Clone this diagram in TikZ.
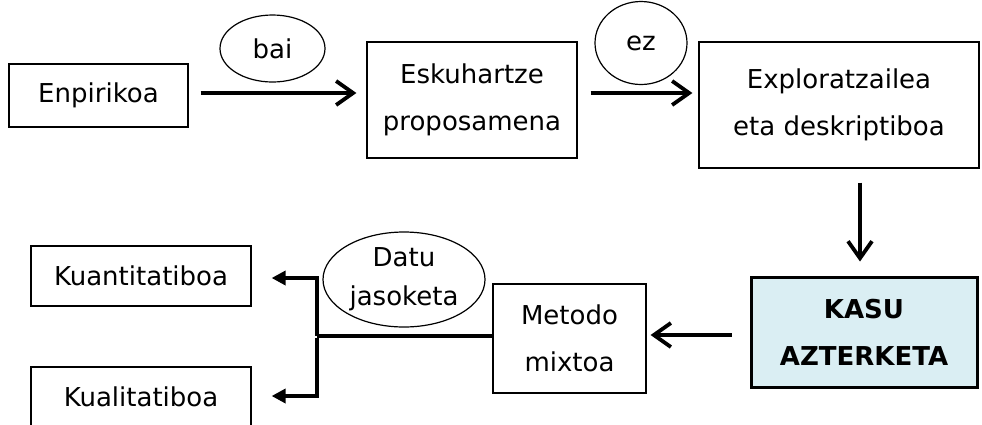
\documentclass[tikz,border=0pt]{standalone}
\usepackage{fontspec}
\setmainfont{DejaVu Sans}
\usepackage{xcolor}
\usetikzlibrary{shapes.geometric,arrows.meta}
\definecolor{kasublue}{RGB}{218,238,243}
\tikzset{
  box/.style={draw, line width=1.2pt, inner sep=0pt, align=center, font=\fontsize{26}{47}\selectfont},
  oval/.style={draw, ellipse, line width=1.2pt, inner sep=0pt, align=center, font=\fontsize{26}{39}\selectfont},
  barb/.style={line width=3.8pt, -{Straight Barb[length=17pt,width=24pt]}},
  tri/.style={line width=3.8pt, -{Triangle[length=14pt,width=14pt]}},
}
\begin{document}
\begin{tikzpicture}[x=1pt, y=-1pt]
        \useasboundingbox (0,0) rectangle (982,424);

        \node[box, minimum width=179, minimum height=63] (enp) at (98.5,95.5) {Enpirikoa};
        \node[box, minimum width=210, minimum height=116] (esk) at (472,100) {Eskuhartze\\proposamena};
        \node[box, minimum width=280, minimum height=126] (exp) at (839,105) {Exploratzailea\\eta deskriptiboa};
        \node[box, line width=3pt, fill=kasublue, minimum width=226, minimum height=110, font=\fontsize{26}{47}\selectfont\bfseries] (kasu) at (864,332) {KASU\\AZTERKETA};
        \node[box, minimum width=153, minimum height=109] (met) at (569.5,338.5) {Metodo\\mixtoa};
        \node[box, minimum width=220, minimum height=60] (kuan) at (141,276) {Kuantitatiboa};
        \node[box, minimum width=220, minimum height=60] (kual) at (141,397) {Kualitatiboa};

        \node[oval, minimum width=105, minimum height=67] (bai) at (272.5,48.5) {bai};
        \node[oval, minimum width=92, minimum height=83] (ez) at (641,43) {ez};
        \node[oval, minimum width=162, minimum height=95] (datu) at (404,279.5) {Datu\\jasoketa};

        \draw[barb, shorten <=12pt, shorten >=10pt] ([yshift=2.5pt]enp.east) -- ([yshift=2.5pt]enp.east -| esk.west);
        \draw[barb, shorten <=13pt, shorten >=6pt] ([yshift=7pt]esk.east) -- ([yshift=7pt]esk.east -| exp.west);
        \draw[barb, shorten <=14pt, shorten >=14pt] ([xshift=21pt]exp.south) -- ([xshift=21pt]exp.south |- kasu.north);
        \draw[barb, shorten <=18pt, shorten >=4pt] ([yshift=-3pt]kasu.west) -- ([yshift=-3pt]kasu.west -| met.east);

        \coordinate (split) at (317,336);
        \draw[line width=3.6pt] (met.west |- split) -- (split);
        \draw[tri, shorten >=20pt, line cap=rect] ([yshift=2pt]split) |- ([yshift=-2pt]kuan.east);
        \draw[tri, shorten >=20pt] ([yshift=-2pt]split) |- ([yshift=1pt]kual.east);

\end{tikzpicture}
\end{document}
